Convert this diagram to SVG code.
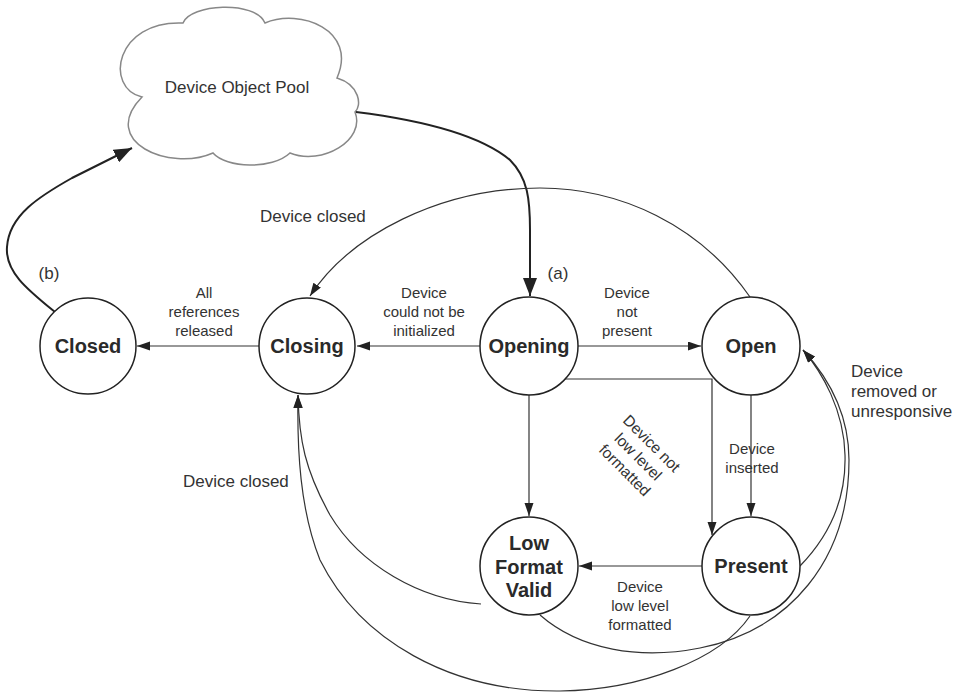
<svg xmlns="http://www.w3.org/2000/svg" width="957" height="693" viewBox="0 0 957 693">
<defs>
<style>
.node circle{fill:#fff;stroke:#222;stroke-width:1.5}
.node text{font-family:"Liberation Sans",Arial,sans-serif;font-weight:bold;font-size:20px;fill:#2a2a2a;text-anchor:middle}
.lbl{font-family:"Liberation Sans",Arial,sans-serif;font-size:15px;fill:#333;text-anchor:middle}
.lbl2{font-family:"Liberation Sans",Arial,sans-serif;font-size:17px;fill:#333}
.edge{fill:none;stroke:#333;stroke-width:1.2;marker-end:url(#arr)}
.thick{fill:none;stroke:#222;stroke-width:2;marker-end:url(#arrB)}
</style>
<marker id="arr" markerUnits="userSpaceOnUse" markerWidth="13" markerHeight="10" refX="13" refY="4.5" orient="auto"><path d="M0,0 L13,4.5 L0,9 z" fill="#222"/></marker>
<marker id="arrB" markerUnits="userSpaceOnUse" markerWidth="18" markerHeight="14" refX="18" refY="7" orient="auto"><path d="M0,0 L18,7 L0,14 z" fill="#222"/></marker>
</defs>
<rect width="957" height="693" fill="#fff"/>

<g id="pool">
<path d="M183,23 C190,4 255,0 265,23 C300,8 358,30 337,78 C360,85 362,106 355,112 C366,140 322,166 290,153 C272,170 226,168 213,153 C170,172 98,142 142,97 C104,88 115,20 183,23 Z" fill="#fff" stroke="#888" stroke-width="1.5"/>
<text class="lbl2" x="237" y="93" text-anchor="middle" style="font-size:17px">Device Object Pool</text>
</g>

<g id="connectors">
<path class="thick" d="M356,112 C420,120 480,135 510,160 C528,178 530,200 530,230 L530,296"/>
<path class="thick" d="M55,312 C28,290 5,272 7,247 C9,215 40,196 72,178 L132,148"/>
<path class="edge" d="M259,346 L137,346"/>
<path class="edge" d="M480,346 L357,346"/>
<path class="edge" d="M578,346 L701,346"/>
<path class="edge" d="M750,297 C700,225 620,188 540,188 C440,188 350,235 310,296"/>
<path class="edge" d="M751,395 L751,516"/>
<path class="edge" d="M565,379 L712,379 L712,535"/>
<path class="edge" d="M529,395 L529,516"/>
<path class="edge" d="M702,566 L579,566"/>
<path class="edge" d="M800,566 C835,530 846,490 845,455 C844,410 822,372 803,350"/>
<path class="edge" d="M540,615 C580,650 640,660 700,648 C790,630 849,560 849,460 C849,410 826,375 803,350"/>
<path class="edge" d="M750,616 C720,660 640,690 560,691 C450,692 360,640 320,560 C300,510 297,450 298,395"/>
<path class="edge" d="M481,604 C420,600 360,565 330,515 C305,470 299,440 298,395"/>
</g>

<g id="labels">
<text class="lbl" x="204" y="298">All</text>
<text class="lbl" x="204" y="317">references</text>
<text class="lbl" x="204" y="336">released</text>
<text class="lbl" x="424" y="298">Device</text>
<text class="lbl" x="424" y="317">could not be</text>
<text class="lbl" x="424" y="336">initialized</text>
<text class="lbl" x="627" y="298">Device</text>
<text class="lbl" x="627" y="317">not</text>
<text class="lbl" x="627" y="336">present</text>
<text class="lbl" x="752" y="454">Device</text>
<text class="lbl" x="752" y="473">inserted</text>
<text class="lbl" x="640" y="592">Device</text>
<text class="lbl" x="640" y="611">low level</text>
<text class="lbl" x="640" y="630">formatted</text>
<g transform="translate(638,457) rotate(45)">
<text class="lbl" x="0" y="-14" style="font-size:15.5px">Device not</text>
<text class="lbl" x="0" y="5" style="font-size:15.5px">low level</text>
<text class="lbl" x="0" y="24" style="font-size:15.5px">formatted</text>
</g>
<text class="lbl2" x="260" y="222">Device closed</text>
<text class="lbl2" x="183" y="487">Device closed</text>
<text class="lbl2" x="851" y="377">Device</text>
<text class="lbl2" x="851" y="397">removed or</text>
<text class="lbl2" x="851" y="417">unresponsive</text>
<text class="lbl2" x="558" y="279" text-anchor="middle">(a)</text>
<text class="lbl2" x="49" y="279" text-anchor="middle">(b)</text>
</g>

<g id="closed" class="node"><circle cx="88" cy="346" r="48"/><text x="88" y="353">Closed</text></g>
<g id="closing" class="node"><circle cx="307" cy="346" r="48"/><text x="307" y="353">Closing</text></g>
<g id="opening" class="node"><circle cx="529" cy="346" r="49"/><text x="529" y="353">Opening</text></g>
<g id="open" class="node"><circle cx="751" cy="346" r="49"/><text x="751" y="353">Open</text></g>
<g id="present" class="node"><circle cx="751" cy="566" r="49"/><text x="751" y="573">Present</text></g>
<g id="lowformatvalid" class="node"><circle cx="529" cy="566" r="49"/><text x="529" y="550">Low</text><text x="529" y="574">Format</text><text x="529" y="597">Valid</text></g>
</svg>
